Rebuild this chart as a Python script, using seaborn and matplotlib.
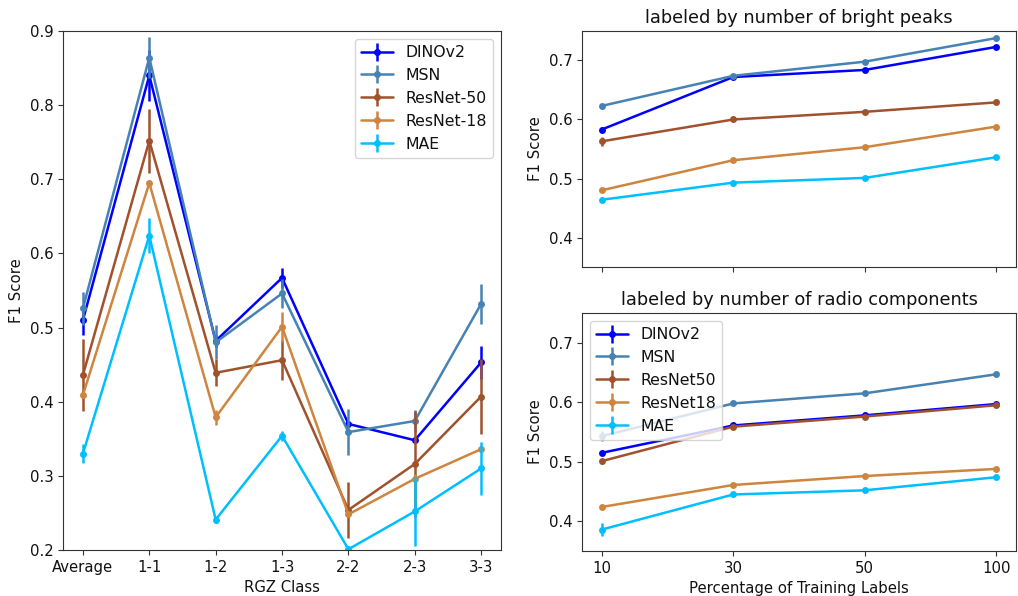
import numpy as np
import pandas as pd
import matplotlib
matplotlib.use("Agg")
import matplotlib.pyplot as plt
from matplotlib.lines import Line2D
import seaborn as sns

# ---------------- data ----------------
classes = ["Average", "1-1", "1-2", "1-3", "2-2", "2-3", "3-3"]
models_left = ["DINOv2", "MSN", "ResNet-50", "ResNet-18", "MAE"]

dino_f1 = [0.510, 0.840, 0.482, 0.567, 0.370, 0.348, 0.453]
dino_err = [0.020, 0.034, 0.008, 0.013, 0.004, 0.004, 0.022]
msn_f1 = [0.526, 0.864, 0.480, 0.546, 0.359, 0.374, 0.532]
msn_err = [0.022, 0.028, 0.023, 0.020, 0.031, 0.015, 0.027]
r50_f1 = [0.436, 0.752, 0.439, 0.456, 0.254, 0.316, 0.407]
r50_err = [0.048, 0.043, 0.018, 0.027, 0.038, 0.072, 0.050]
r18_f1 = [0.409, 0.695, 0.379, 0.501, 0.248, 0.296, 0.336]
r18_err = [0.004, 0.003, 0.010, 0.020, 0.004, 0.006, 0.004]
mae_f1 = [0.330, 0.624, 0.241, 0.354, 0.201, 0.252, 0.310]
mae_err = [0.013, 0.024, 0.004, 0.007, 0.003, 0.046, 0.036]

pct_labels = ["10", "30", "50", "100"]
models_right = ["DINOv2", "MSN", "ResNet50", "ResNet18", "MAE"]

peaks_dino = [0.583, 0.672, 0.684, 0.723]
peaks_msn = [0.623, 0.674, 0.698, 0.738]
peaks_r50 = [0.563, 0.600, 0.613, 0.629]
peaks_r18 = [0.480, 0.531, 0.553, 0.588]
peaks_mae = [0.464, 0.493, 0.501, 0.536]
peaks_err_dino = [0.004, 0.003, 0.003, 0.002]
peaks_err_msn = [0.002, 0.002, 0.002, 0.002]
peaks_err_r50 = [0.008, 0.002, 0.002, 0.002]
peaks_err_r18 = [0.002, 0.002, 0.002, 0.002]
peaks_err_mae = [0.002, 0.002, 0.002, 0.002]

comp_dino = [0.515, 0.561, 0.578, 0.597]
comp_msn = [0.543, 0.598, 0.615, 0.647]
comp_r50 = [0.501, 0.559, 0.576, 0.595]
comp_r18 = [0.424, 0.461, 0.476, 0.488]
comp_mae = [0.386, 0.445, 0.452, 0.474]
comp_err_dino = [0.004, 0.002, 0.002, 0.002]
comp_err_msn = [0.008, 0.002, 0.002, 0.002]
comp_err_r50 = [0.004, 0.002, 0.002, 0.002]
comp_err_r18 = [0.002, 0.002, 0.002, 0.002]
comp_err_mae = [0.011, 0.004, 0.003, 0.003]

colors = ["blue", "steelblue", "sienna", "peru", "deepskyblue"]

# ---------------- style ----------------
sns.set_style("ticks")
plt.rcParams["font.family"] = ["DejaVu Sans"]
plt.rcParams["font.size"] = 10.7
plt.rcParams["axes.edgecolor"] = "#333333"
plt.rcParams["axes.labelcolor"] = "#111111"
plt.rcParams["xtick.color"] = "#333333"
plt.rcParams["ytick.color"] = "#333333"
plt.rcParams["xtick.labelcolor"] = "#111111"
plt.rcParams["ytick.labelcolor"] = "#111111"
plt.rcParams["text.color"] = "#111111"

LW = 1.8
MS = 5


def long_df(xlabels, names, series, errs):
    rows = []
    for name, vals, err in zip(names, series, errs):
        for i, (v, e) in enumerate(zip(vals, err)):
            rows.append({"pos": i, "label": xlabels[i], "model": name, "f1": v, "err": e})
    return pd.DataFrame(rows)


def draw(ax, df, names, legend_loc=None):
    pal = dict(zip(names, colors))
    for name in names:
        sub = df[df["model"] == name]
        sns.lineplot(data=sub, x="pos", y="f1", color=pal[name], marker="o",
                     markersize=MS, markeredgewidth=0, linewidth=LW,
                     sort=False, errorbar=None, legend=False, ax=ax)
        ax.errorbar(sub["pos"], sub["f1"], yerr=sub["err"], fmt="none",
                    ecolor=pal[name], elinewidth=LW, capsize=0)
    if legend_loc is not None:
        handles = []
        for name in names:
            c = pal[name]
            h = (Line2D([0], [0], color=c, lw=LW, marker="o", ms=MS, mew=0),
                 Line2D([0], [0], color=c, marker="|", ms=13, mew=LW, ls="none"))
            handles.append(h)
        ax.legend(handles, names, loc=legend_loc, fontsize=11.3, framealpha=0.8)


fig = plt.figure(figsize=(10.18, 5.96), dpi=100)
ax_l = fig.add_axes([0.0619, 0.0772, 0.4303, 0.8708])
ax_t = fig.add_axes([0.5717, 0.5520, 0.4263, 0.3960])
ax_b = fig.add_axes([0.5717, 0.0755, 0.4263, 0.3993], sharex=ax_t, sharey=ax_t)

# left panel
df_left = long_df(classes, models_left,
                  [dino_f1, msn_f1, r50_f1, r18_f1, mae_f1],
                  [dino_err, msn_err, r50_err, r18_err, mae_err])
draw(ax_l, df_left, models_left, legend_loc="upper right")
ax_l.set_xticks(range(len(classes)))
ax_l.set_xticklabels(classes)
ax_l.set_ylim(0.2, 0.9)
ax_l.set_xlabel("RGZ Class")
ax_l.set_ylabel("F1 Score")

# top right
df_peaks = long_df(pct_labels, models_right,
                   [peaks_dino, peaks_msn, peaks_r50, peaks_r18, peaks_mae],
                   [peaks_err_dino, peaks_err_msn, peaks_err_r50, peaks_err_r18, peaks_err_mae])
draw(ax_t, df_peaks, models_right)
ax_t.set_title("labeled by number of bright peaks", fontsize=12.8)
ax_t.set_ylabel("F1 Score")
ax_t.set_xlabel("")
ax_t.tick_params(labelbottom=False)

# bottom right
df_comp = long_df(pct_labels, models_right,
                  [comp_dino, comp_msn, comp_r50, comp_r18, comp_mae],
                  [comp_err_dino, comp_err_msn, comp_err_r50, comp_err_r18, comp_err_mae])
draw(ax_b, df_comp, models_right, legend_loc="upper left")
ax_b.set_title("labeled by number of radio components", fontsize=12.8)
ax_b.set_ylabel("F1 Score")
ax_b.set_xticks(range(len(pct_labels)))
ax_b.set_xticklabels(pct_labels)
ax_b.set_xlabel("Percentage of Training Labels")
ax_b.set_ylim(0.35, 0.75)
ax_b.set_yticks([0.4, 0.5, 0.6, 0.7])

fig.savefig("out.png", dpi=100)
